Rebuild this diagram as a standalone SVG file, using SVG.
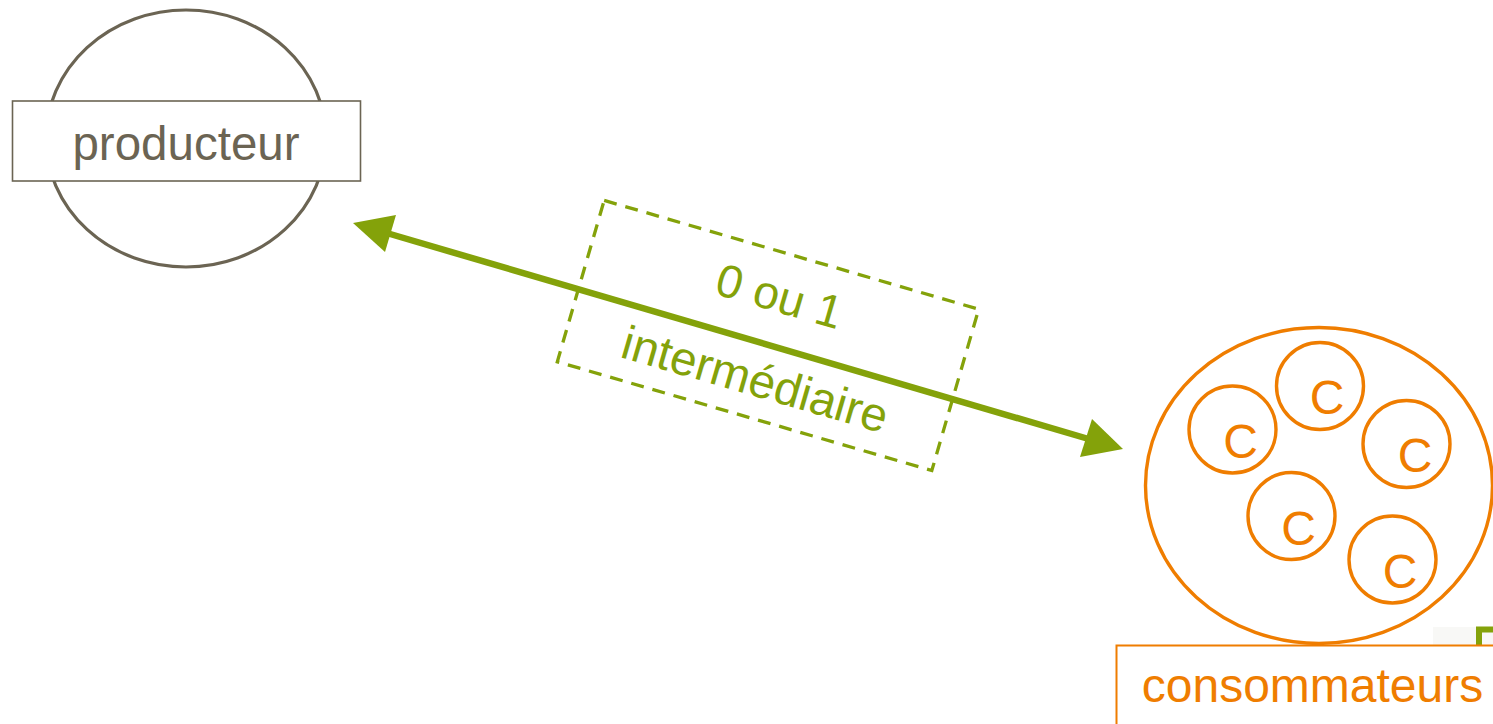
<svg xmlns="http://www.w3.org/2000/svg" width="1493" height="724" viewBox="0 0 1493 724">
  <defs>
    <style>
      .txt { font-family: "Liberation Sans", Arial, sans-serif; }
      .prod { fill: none; stroke: #6b6453; stroke-width: 3.2; }
      .prodbox { fill: #ffffff; stroke: #6b6453; stroke-width: 1.6; }
      .prodtxt { fill: #6b6453; font-size: 47.5px; text-anchor: middle; }
      .org { fill: none; stroke: #ef7d00; stroke-width: 3.4; }
      .orgtxt { fill: #ef7d00; font-size: 48px; text-anchor: middle; }
      .grn { stroke: #84a20a; }
      .grnfill { fill: #84a20a; }
      .grntxt { fill: #84a20a; font-size: 46.5px; text-anchor: middle; }
    </style>
  </defs>
  <rect width="1493" height="724" fill="#ffffff"/>

  <g id="producteur">
    <ellipse class="prod" cx="186" cy="138.5" rx="140" ry="128.5"/>
    <rect class="prodbox" x="12.5" y="101" width="348" height="80"/>
    <text class="txt prodtxt" x="186" y="159.5">producteur</text>
  </g>

  <g id="connectors">
    <line class="grn" x1="385" y1="232.5" x2="1092" y2="440" stroke-width="6.5"/>
    <polygon class="grnfill" points="353,223 396,215 385,252"/>
    <polygon class="grnfill" points="1123,449 1092,419 1080,457"/>
  </g>

  <g id="intermediaire" transform="translate(768 335.5) rotate(16.2)">
    <rect class="grn" x="-195" y="-84" width="390" height="168" fill="none" stroke-width="3.3" stroke-dasharray="13 9"/>
    <text class="txt grntxt" x="0" y="-25">0 ou 1</text>
    <text class="txt grntxt" x="0" y="62" style="font-size:47.5px">intermédiaire</text>
  </g>

  <g id="consommateurs">
    <ellipse class="org" cx="1319" cy="485.5" rx="173.5" ry="158"/>
    <circle class="org" cx="1320" cy="386" r="43.5"/>
    <circle class="org" cx="1232.5" cy="429.5" r="43.5"/>
    <circle class="org" cx="1406.5" cy="444" r="43.5"/>
    <circle class="org" cx="1291.5" cy="516" r="43.5"/>
    <circle class="org" cx="1392.5" cy="559.5" r="43.5"/>
    <text class="txt orgtxt" x="1327" y="413.5">C</text>
    <text class="txt orgtxt" x="1240.5" y="457.5">C</text>
    <text class="txt orgtxt" x="1415" y="471.5">C</text>
    <text class="txt orgtxt" x="1298.5" y="544.5">C</text>
    <text class="txt orgtxt" x="1400" y="587.5">C</text>
    <rect x="1433" y="627" width="60" height="18" fill="#f8f8f6"/>
    <path d="M1479,645 V629.5 H1493" fill="none" stroke="#84a20a" stroke-width="6"/>
    <rect x="1116.5" y="645.5" width="390" height="90" fill="#ffffff" stroke="#ef7d00" stroke-width="2"/>
    <text class="txt orgtxt" x="1312.5" y="702">consommateurs</text>
  </g>
</svg>
